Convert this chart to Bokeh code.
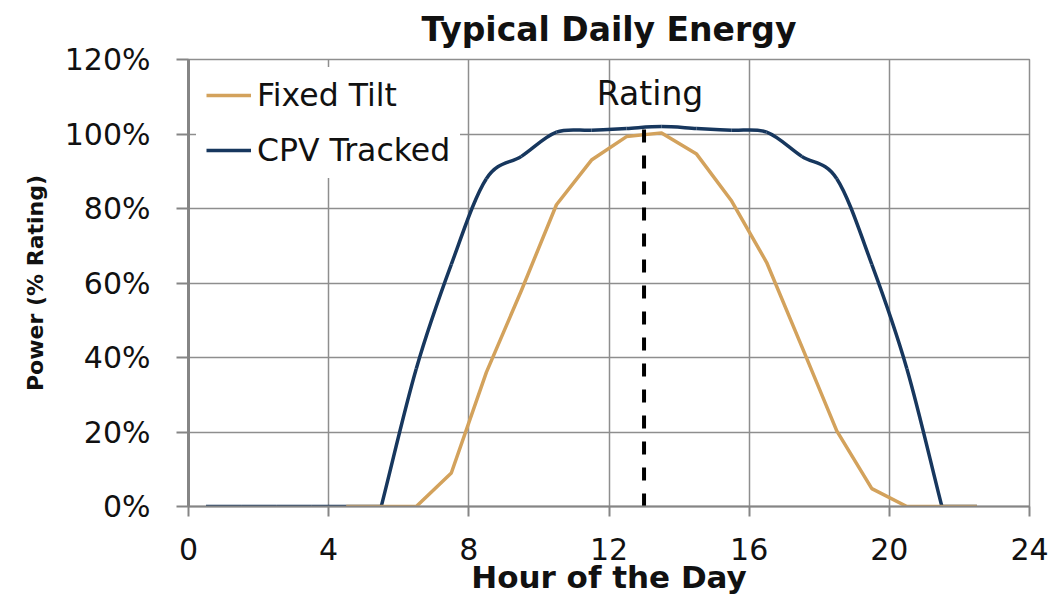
from bokeh.plotting import figure
from bokeh.models import Range1d, FixedTicker, PrintfTickFormatter, Label, Legend, LegendItem
from bokeh.embed import file_html
from bokeh.resources import INLINE

# ---------------- data ----------------
cpv_hours = [0.5, 1.5, 2.5, 3.5, 4.5, 5.5, 6.5, 7.5, 8.5, 9.5, 10.5, 11.5,
             12.5, 13.5, 14.5, 15.5, 16.5, 17.5, 18.5, 19.5, 20.5, 21.5, 22.5]
cpv_tracked = [0, 0, 0, 0, 0, 0, 37, 65, 88, 94, 100.5, 101,
               101.5, 102, 101.5, 101, 100.5, 94, 88, 65, 37, 0, 0]

fixed_hours = [4.5, 5.5, 6.5, 7.5, 8.5, 9.5, 10.5, 11.5, 12.5, 13.5,
               14.5, 15.5, 16.5, 17.5, 18.5, 19.5, 20.5, 21.5, 22.5]
fixed_tilt = [0, 0, 0, 9, 36, 58, 81, 93, 99.3, 100.3,
              94.6, 82, 65.5, 43, 20.3, 4.8, 0, 0, 0]

rating_hour = [13]
x_ticks = [0, 4, 8, 12, 16, 20, 24]
y_ticks = [0, 20, 40, 60, 80, 100, 120]

GOLD = "#D3A25C"
NAVY = "#17375E"
GRID = "#8E8E8E"
TEXT = "#111111"
FONT = "DejaVu Sans"


# smoothed (Excel-like) curve segments computed from the data points
def smooth_segments(xs, ys):
    n = len(xs)
    t_in, t_out = [], []
    for i in range(n):
        if i == 0 or i == n - 1:
            m = (ys[1] - ys[0]) if i == 0 else (ys[-1] - ys[-2])
            t_in.append(m); t_out.append(m)
            continue
        left = ys[i] - ys[i - 1]
        right = ys[i + 1] - ys[i]
        if left == 0 and right == 0:
            t_in.append(0); t_out.append(0)
        elif left == 0:
            t_in.append(0); t_out.append(right)
        elif right == 0:
            t_in.append(left); t_out.append(0)
        elif left * right < 0:
            t_in.append(0); t_out.append(0)
        else:
            m = (ys[i + 1] - ys[i - 1]) / 2
            t_in.append(m); t_out.append(m)
    seg = dict(x0=[], y0=[], x1=[], y1=[], cx0=[], cy0=[], cx1=[], cy1=[])
    for i in range(n - 1):
        dx = xs[i + 1] - xs[i]
        seg["x0"].append(xs[i]); seg["y0"].append(ys[i])
        seg["x1"].append(xs[i + 1]); seg["y1"].append(ys[i + 1])
        seg["cx0"].append(xs[i] + dx / 3); seg["cy0"].append(ys[i] + t_out[i] / 3)
        seg["cx1"].append(xs[i + 1] - dx / 3); seg["cy1"].append(ys[i + 1] - t_in[i + 1] / 3)
    return seg


p = figure(width=1054, height=598, output_backend="svg", toolbar_location=None,
           x_range=Range1d(0, 24), y_range=Range1d(0, 120),
           min_border_left=188, min_border_right=25, min_border_top=59, min_border_bottom=92)

p.title.text = "Typical Daily Energy"
p.title.text_font = FONT
p.title.text_font_size = "33px"
p.title.text_font_style = "bold"
p.title.align = "center"
p.title.vertical_align = "top"
p.title.standoff = 18
p.title.text_color = TEXT

p.outline_line_color = GRID
p.outline_line_width = 1.5
p.background_fill_color = "white"
p.border_fill_color = "white"

for g in (p.xgrid[0], p.ygrid[0]):
    g.grid_line_color = GRID
    g.grid_line_width = 1.5
p.xgrid.ticker = FixedTicker(ticks=x_ticks)
p.ygrid.ticker = FixedTicker(ticks=y_ticks)

xa, ya = p.xaxis[0], p.yaxis[0]
xa.ticker = FixedTicker(ticks=x_ticks)
ya.ticker = FixedTicker(ticks=y_ticks)
ya.formatter = PrintfTickFormatter(format="%d%%")
for ax in (xa, ya):
    ax.axis_line_color = "#858585"
    ax.major_tick_line_color = "#858585"
    ax.major_tick_line_width = 2
    ax.minor_tick_line_color = None
    ax.major_tick_in = 0
    ax.major_label_text_font = FONT
    ax.major_label_text_font_size = "30px"
    ax.major_label_text_color = TEXT
    ax.axis_label_text_font = FONT
    ax.axis_label_text_font_style = "bold"
    ax.axis_label_text_color = TEXT
ya.axis_line_width = 3
xa.axis_line_width = 2
ya.major_tick_out = 12
xa.major_tick_out = 10
ya.major_label_standoff = 26
xa.major_label_standoff = 21
xa.axis_label = "Hour of the Day"
xa.axis_label_text_font_size = "31px"
xa.axis_label_standoff = -4
ya.axis_label = "Power (% Rating)"
ya.axis_label_text_font_size = "22px"
ya.axis_label_standoff = 14

# CPV tracked (smoothed)
seg = smooth_segments(cpv_hours, cpv_tracked)
r_cpv = p.bezier(x0=seg["x0"], y0=seg["y0"], x1=seg["x1"], y1=seg["y1"],
                 cx0=seg["cx0"], cy0=seg["cy0"], cx1=seg["cx1"], cy1=seg["cy1"],
                 line_color=NAVY, line_width=3.5)

# Fixed tilt (straight)
r_fix = p.line(fixed_hours, fixed_tilt, line_color=GOLD, line_width=3.5, line_join="round")

# rating line
p.segment(x0=rating_hour, y0=[0], x1=rating_hour, y1=[max(cpv_tracked)],
          line_color="black", line_width=4, line_dash="13 13")

p.add_layout(Label(x=rating_hour[0], y=111, text="Rating", text_align="center",
                   text_baseline="middle", x_offset=6, text_font=FONT,
                   text_font_size="33px", text_color=TEXT))

legend = Legend(items=[LegendItem(label="Fixed Tilt", renderers=[r_fix]),
                       LegendItem(label="CPV Tracked", renderers=[r_cpv])],
                location="top_left", margin=8, padding=10, spacing=19,
                glyph_width=45, glyph_height=36, label_height=36, label_standoff=6,
                label_text_font=FONT, label_text_font_size="31.5px", label_text_color=TEXT,
                background_fill_color="white", background_fill_alpha=1.0,
                border_line_alpha=0)
p.add_layout(legend)

open("out.html", "w").write(file_html(p, INLINE))
